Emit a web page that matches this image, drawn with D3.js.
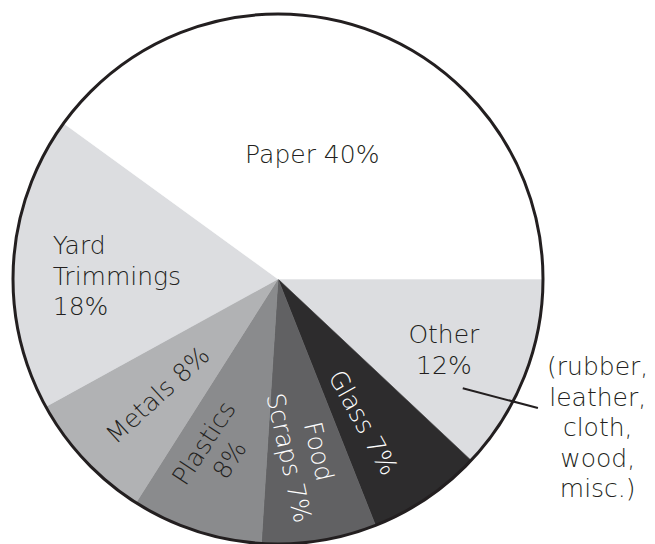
<!DOCTYPE html>
<html lang="en">
<head>
<meta charset="UTF-8">
<title>Waste pie</title>
<script src="https://cdn.jsdelivr.net/npm/d3@7"></script>
<style>
  html, body { margin: 0; padding: 0; background: #fff; }
  svg { display: block; }
  text { font-family: "DejaVu Sans", sans-serif; font-size: 25px; font-weight: 200; }
</style>
</head>
<body>
<svg id="chart" width="655" height="544"></svg>
<script>
// data, clockwise from 3 o'clock
const categories = ["Other", "Glass", "Food Scraps", "Plastics", "Metals", "Yard Trimmings", "Paper"];
const values = [12, 7, 7, 8, 8, 18, 40];
const labelLines = [
  ["Other", "12%"],
  ["Glass 7%"],
  ["Food", "Scraps 7%"],
  ["Plastics", "8%"],
  ["Metals 8%"],
  ["Yard", "Trimmings", "18%"],
  ["Paper 40%"]
];
const noteLines = ["(rubber,", "leather,", "cloth,", "wood,", "misc.)"];

const fills = ["#dcdde0", "#2d2c2d", "#616163", "#8a8b8d", "#b1b2b4", "#dcdde0", "#ffffff"];
const ink = "#231f20";

// label placement: radius fraction, angle nudge (deg), rotation (deg), anchor, text colour
const labelLayout = [
  { r: 0.68, da: 1.4, rot: 0, anchor: "middle", color: ink },
  { r: 0.63, da: 3.4, rot: 61, anchor: "middle", color: "#fff" },
  { r: 0.67, da: 0.5, rot: 77.5, anchor: "middle", color: "#fff" },
  { r: 0.69, da: 1.7, rot: -57, anchor: "middle", color: ink },
  { r: 0.63, da: -0.6, rot: -42.5, anchor: "middle", color: ink },
  { r: 0.85, da: -2.8, rot: 0, anchor: "start", color: ink },
  { r: 0.49, da: -2.7, rot: 0, anchor: "middle", color: ink }
];

const cx = 278, cy = 279, radius = 265, lineH = 30.5;
const deg = Math.PI / 180;

const svg = d3.select("#chart");
const g = svg.append("g").attr("transform", `translate(${cx},${cy})`);

const color = d3.scaleOrdinal().domain(categories).range(fills);

const pie = d3.pie()
  .sort(null)
  .value(d => d.value)
  .startAngle(Math.PI / 2)
  .endAngle(Math.PI / 2 + 2 * Math.PI);

const rows = categories.map((c, i) => ({ name: c, value: values[i], lines: labelLines[i], lay: labelLayout[i] }));
const arcs = pie(rows);

const arc = d3.arc().innerRadius(0).outerRadius(radius);

g.selectAll("path.slice")
  .data(arcs)
  .join("path")
  .attr("class", "slice")
  .attr("d", arc)
  .attr("fill", d => color(d.data.name))
  .attr("stroke", d => color(d.data.name))
  .attr("stroke-width", 0.6);

// outer rim
g.append("circle")
  .attr("r", radius)
  .attr("fill", "none")
  .attr("stroke", ink)
  .attr("stroke-width", 3);

function midAngle(d) { return (d.startAngle + d.endAngle) / 2; }

const labels = g.selectAll("g.label")
  .data(arcs)
  .join("g")
  .attr("class", "label")
  .attr("transform", d => {
    const p = d3.pointRadial(midAngle(d) + d.data.lay.da * deg, d.data.lay.r * radius);
    return `translate(${p[0]},${p[1]}) rotate(${d.data.lay.rot})`;
  });

labels.append("text")
  .attr("text-anchor", d => d.data.lay.anchor)
  .attr("fill", d => d.data.lay.color)
  .each(function (d) {
    const n = d.data.lines.length;
    d3.select(this).selectAll("tspan")
      .data(d.data.lines)
      .join("tspan")
      .attr("x", 0)
      .attr("y", (t, i) => (i - (n - 1) / 2) * lineH)
      .attr("dy", "0.36em")
      .text(t => t);
  });

// leader line and note for "Other"
const other = arcs[0];
const a0 = d3.pointRadial(midAngle(other) + 9 * deg, 0.81 * radius);
const a1 = d3.pointRadial(midAngle(other) + 4.8 * deg, 1.095 * radius);
g.append("line")
  .attr("x1", a0[0]).attr("y1", a0[1])
  .attr("x2", a1[0]).attr("y2", a1[1])
  .attr("stroke", ink)
  .attr("stroke-width", 2);

const np = d3.pointRadial(midAngle(other) + 3.3 * deg, 1.33 * radius);
g.append("text")
  .attr("text-anchor", "middle")
  .attr("fill", ink)
  .selectAll("tspan")
  .data(noteLines)
  .join("tspan")
  .attr("x", np[0])
  .attr("y", (t, i) => np[1] + (i - (noteLines.length - 1) / 2) * lineH)
  .attr("dy", "0.36em")
  .text(t => t);
</script>
</body>
</html>
